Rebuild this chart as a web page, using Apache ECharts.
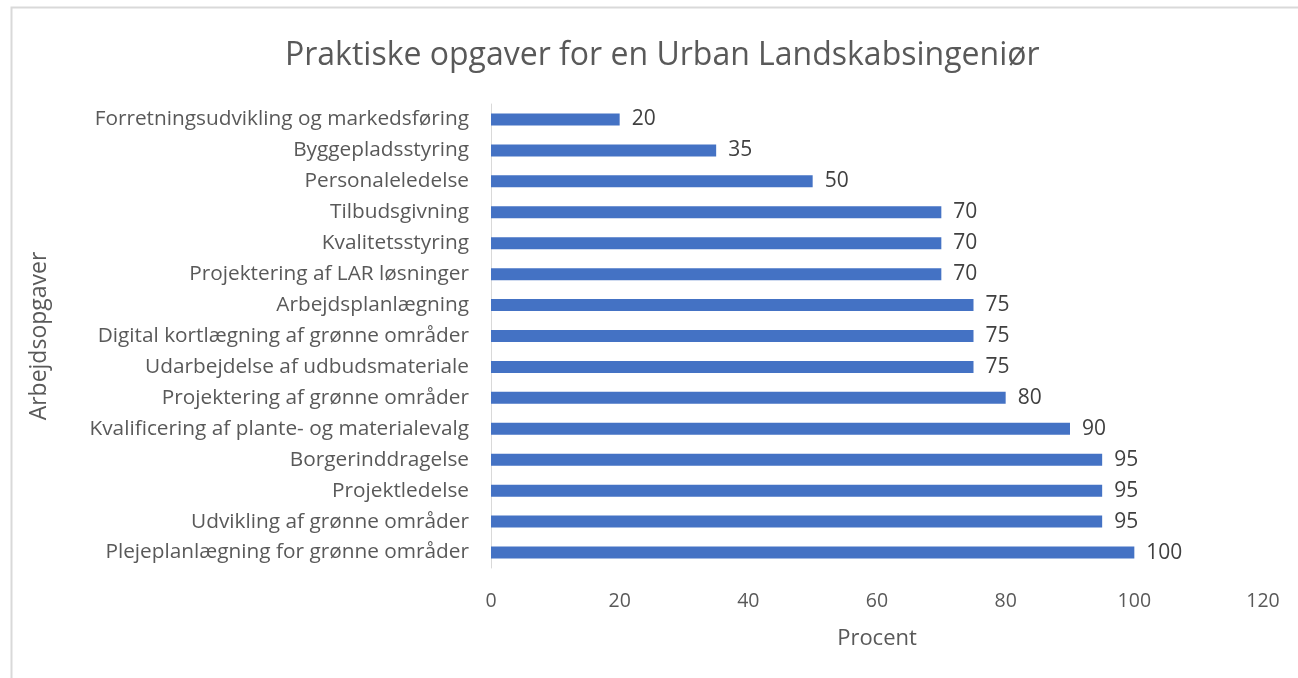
<!DOCTYPE html>
<html>
<head>
<meta charset="utf-8">
<script src="https://cdn.jsdelivr.net/npm/echarts@6/dist/echarts.min.js"></script>
<style>
  html, body { margin: 0; padding: 0; background: #ffffff; }
  #chart { width: 1298px; height: 678px; }
</style>
</head>
<body>
<div id="chart"></div>
<script>
// opgaver, nederst til øverst (category axis starts from the bottom)
var opgaver = [
  'Plejeplanlægning for grønne områder',
  'Udvikling af grønne områder',
  'Projektledelse',
  'Borgerinddragelse',
  'Kvalificering af plante- og materialevalg',
  'Projektering af grønne områder',
  'Udarbejdelse af udbudsmateriale',
  'Digital kortlægning af grønne områder',
  'Arbejdsplanlægning',
  'Projektering af LAR løsninger',
  'Kvalitetsstyring',
  'Tilbudsgivning',
  'Personaleledelse',
  'Byggepladsstyring',
  'Forretningsudvikling og markedsføring'
]
var procent = [100, 95, 95, 95, 90, 80, 75, 75, 75, 70, 70, 70, 50, 35, 20]

var font = '"Open Sans", "Noto Sans", sans-serif'
var textColor = '#595959'

var chart = echarts.init(document.getElementById('chart'))
chart.setOption({
  animation: false,
  textStyle: { fontFamily: font },
  title: {
    text: 'Praktiske opgaver for en Urban Landskabsingeniør',
    left: 280,
    top: 35,
    textStyle: { fontFamily: font, fontSize: 32, fontWeight: 'normal', color: textColor }
  },
  graphic: [{
    type: 'rect',
    left: 9,
    top: 5,
    shape: { width: 1400, height: 800 },
    style: { fill: 'none', stroke: '#d9d9d9', lineWidth: 2 },
    silent: true
  }],
  grid: {
    left: 491,
    top: 104,
    width: 772,
    height: 464
  },
  xAxis: {
    type: 'value',
    min: 0,
    max: 120,
    interval: 20,
    name: 'Procent',
    nameLocation: 'middle',
    nameGap: 60,
    nameTextStyle: { fontSize: 22, color: textColor },
    axisLine: { show: false },
    axisTick: { show: false },
    splitLine: { show: false },
    axisLabel: { fontSize: 19.5, color: textColor, margin: 23 }
  },
  yAxis: {
    type: 'category',
    data: opgaver,
    name: 'Arbejdsopgaver',
    nameLocation: 'middle',
    nameGap: 440,
    nameRotate: 90,
    nameTextStyle: { fontSize: 23, color: textColor },
    axisLine: { show: true, lineStyle: { color: '#d9d9d9', width: 1 } },
    axisTick: { show: false },
    axisLabel: { fontSize: 20.8, color: textColor, margin: 22 }
  },
  series: [{
    type: 'bar',
    data: procent,
    barWidth: 12,
    itemStyle: { color: '#4472c4' },
    label: {
      show: true,
      position: 'right',
      distance: 12,
      fontSize: 21,
      color: '#404040'
    }
  }]
})
</script>
</body>
</html>
